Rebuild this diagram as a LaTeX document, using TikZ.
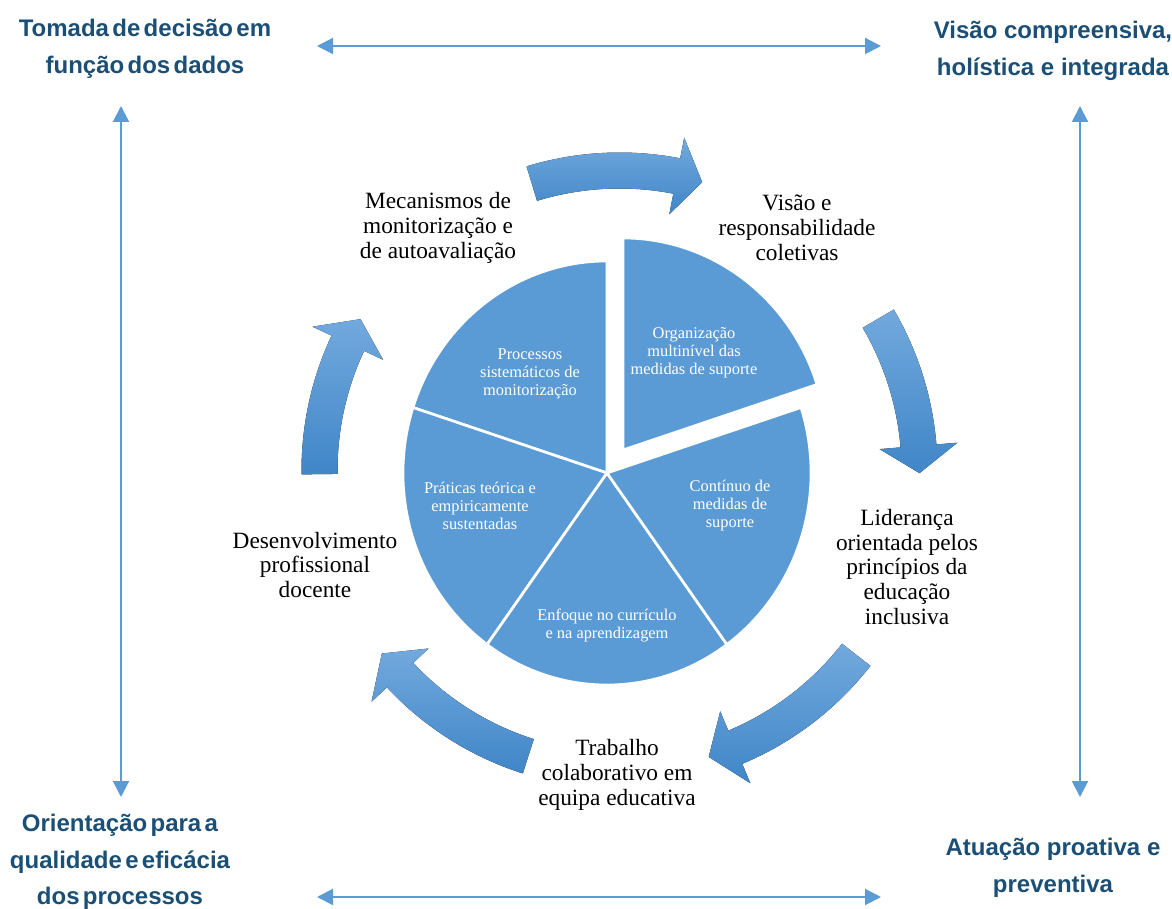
\documentclass[tikz,border=0pt]{standalone}
\usepackage{fontspec}
\setmainfont{Liberation Serif}
\newfontfamily\cornersans{Liberation Sans}
\usetikzlibrary{arrows.meta}
\definecolor{pieblue}{HTML}{5B9BD5}
\definecolor{arrowlight}{HTML}{72A9DD}
\definecolor{arrowdark}{HTML}{4086C8}
\definecolor{darkblue}{HTML}{1B4F75}
\definecolor{lineblue}{HTML}{5B9BD5}
\tikzset{
  corner/.style={align=center, text=darkblue, font=\cornersans\bfseries\fontsize{18pt}{27.5pt}\selectfont, inner sep=0pt},
  cornertight/.style={corner, execute at begin node={\spaceskip=2.5pt plus 1pt minus 0.5pt\relax}},
  dblarrow/.style={draw=lineblue, line width=1.5pt, {Triangle[length=12pt,width=12pt]}-{Triangle[length=12pt,width=12pt]}},
  slice/.style={fill=pieblue, draw=white, line width=2pt},
  pietext/.style={align=center, text=white, font=\fontsize{12.3pt}{13.5pt}\selectfont, inner sep=0pt},
  outertext/.style={align=center, text=black, font=\fontsize{17.5pt}{18.7pt}\selectfont, inner sep=0pt},
  cyc/.style={top color=arrowlight, bottom color=arrowdark, draw=none}
}
\newcommand{\ringarrow}[3]{%
  \fill[cyc] (#1:318) arc[start angle=#1, end angle=#2, radius=318] -- (#2:339) -- (#3:300) -- (#2:261) -- (#2:282) arc[start angle=#2, end angle=#1, radius=282] -- cycle;}
\begin{document}
\begin{tikzpicture}[x=0.75pt, y=0.75pt]
\useasboundingbox (0,0) rectangle (1172,908);
\fill[white] (0,0) rectangle (1172,908);

% corner labels
\node[cornertight] (tl) at (145,859) {Tomada de decisão em\\função dos dados};
\node[corner] (tr) at (1053,857) {Visão compreensiva,\\holística e integrada};
\node[cornertight] (bl) at (120,46) {Orientação para a\\qualidade e eficácia\\dos processos};
\node[corner] (br) at (1053,40) {Atuação proativa e\\preventiva};

% double arrows
\coordinate (topL) at (317,862);
\coordinate (topR) at (881,862);
\coordinate (botL) at (317,11);
\coordinate (botR) at (881,11);
\coordinate (leftT) at (121,802);
\coordinate (leftB) at (121,111);
\coordinate (rightT) at (1080,802);
\coordinate (rightB) at (1080,111);
\draw[dblarrow] (topL) -- (topR);
\draw[dblarrow] (botL) -- (botR);
\draw[dblarrow] (leftT) -- (leftB);
\draw[dblarrow] (rightT) -- (rightB);

% pie
\coordinate (pc) at (607,435);
\coordinate (pcx) at (623,458);
\filldraw[slice] (pcx) -- +(18:204 and 212) arc[start angle=18, end angle=90, x radius=204, y radius=212] -- cycle;
\filldraw[slice] (pc) -- +(90:204 and 212) arc[start angle=90, end angle=162, x radius=204, y radius=212] -- cycle;
\filldraw[slice] (pc) -- +(162:204 and 212) arc[start angle=162, end angle=234, x radius=204, y radius=212] -- cycle;
\filldraw[slice] (pc) -- +(234:204 and 212) arc[start angle=234, end angle=306, x radius=204, y radius=212] -- cycle;
\filldraw[slice] (pc) -- +(306:204 and 212) arc[start angle=306, end angle=378, x radius=204, y radius=212] -- cycle;

\node[pietext] (org) at (694,555) {Organização\\multinível das\\medidas de suporte};
\node[pietext] (proc) at (530,534) {Processos\\sistemáticos de\\monitorização};
\node[pietext] (cont) at (730,402) {Contínuo de\\medidas de\\suporte};
\node[pietext] (prat) at (480,402) {Práticas teórica e\\empiricamente\\sustentadas};
\node[pietext] (enf) at (607,283) {Enfoque no currículo\\e na aprendizagem};

% ring arrows
\begin{scope}[shift={(619.5,437.5)}]
\ringarrow{107}{79}{74}
\ringarrow{30.4}{4.7}{-0.5}
\ringarrow{-37.9}{-67.3}{-72.7}
\ringarrow{252.3}{223}{217.6}
\ringarrow{180.7}{154.9}{149.7}
\end{scope}

% outer labels
\node[outertext] (mec) at (438,680) {Mecanismos de\\monitorização e\\de autoavaliação};
\node[outertext] (vis) at (797,680) {Visão e\\responsabilidade\\coletivas};
\node[outertext] (lid) at (907,341) {Liderança\\orientada pelos\\princípios da\\educação\\inclusiva};
\node[outertext] (trab) at (617,133) {Trabalho\\colaborativo em\\equipa educativa};
\node[outertext] (des) at (315,343) {Desenvolvimento\\profissional\\docente};
\end{tikzpicture}
\end{document}
